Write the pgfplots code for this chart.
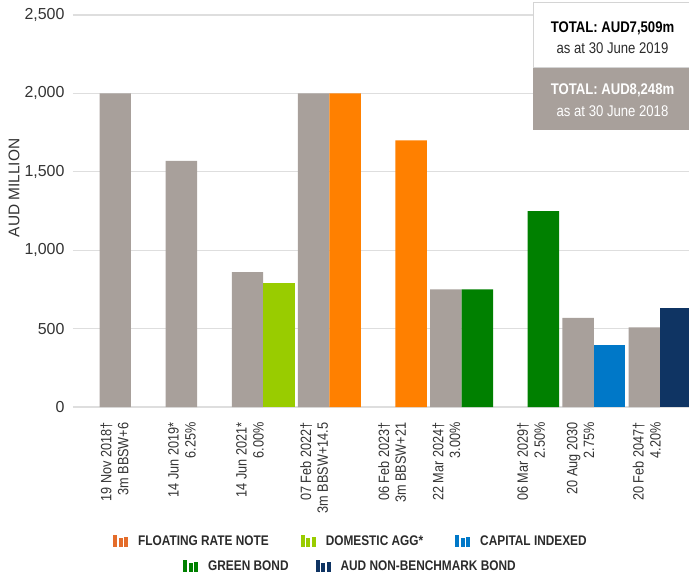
\documentclass[border=0pt]{standalone}
\usepackage{fontspec}
\setmainfont{Liberation Sans}
\newfontfamily\narrow{Liberation Sans}[FakeStretch=0.85]
\usepackage{pgfplots}
\pgfplotsset{compat=1.18}

\definecolor{bgrey}{HTML}{A8A09B}
\definecolor{aggreen}{HTML}{99CC00}
\definecolor{frnorange}{HTML}{FF8000}
\definecolor{legorange}{HTML}{E46C2A}
\definecolor{grnbond}{HTML}{008000}
\definecolor{capblue}{HTML}{0078C8}
\definecolor{navy}{HTML}{0F3463}
\definecolor{gridc}{HTML}{DEDEDE}
\definecolor{tickc}{HTML}{333333}
\definecolor{legc}{HTML}{2B2B2B}
\definecolor{boxline}{HTML}{D4D4D4}

\begin{document}
\begin{tikzpicture}
% page = 689 x 573 bp, axis box at (0,0)-(616,392)
\useasboundingbox (-73bp,-166bp) rectangle (616bp,407bp);

\begin{axis}[
  name=ax,
  scale only axis,
  width=616bp, height=392bp,
  xmin=0.123, xmax=9.439,
  ymin=0, ymax=2500,
  axis line style={draw=none},
  major tick length=0,
  ytick={0,500,...,2500},
  ymajorgrids,
  grid style={draw=gridc, line width=1.2bp},
  yticklabel style={font=\fontsize{16}{19}\selectfont, text=tickc, xshift=-5bp},
  /pgf/number format/1000 sep={,},
  /pgf/number format/assume math mode=true,
  xtick={0.75,1.77,2.8,3.77,4.95,5.77,7.05,7.8,8.8},
  xticklabels={
    {19 Nov 2018†\\3m BBSW+6},
    {14 Jun 2019*\\6.25\%},
    {14 Jun 2021*\\6.00\%},
    {07 Feb 2022†\\3m BBSW+14.5},
    {06 Feb 2023†\\3m BBSW+21},
    {22 Mar 2024†\\3.00\%},
    {06 Mar 2029†\\2.50\%},
    {20 Aug 2030\\2.75\%},
    {20 Feb 2047†\\4.20\%}},
  xticklabel style={yshift=-12bp, rotate=90, anchor=east, align=right,
    font=\narrow\fontsize{15}{17}\selectfont, text=tickc},
  ylabel={AUD MILLION},
  ylabel style={at={(axis description cs:-0.0958,0.559)}, anchor=center,
    rotate=0, font=\fontsize{15.5}{18}\selectfont, text=tickc},
  legend image code/.code={
    \fill[#1] (0bp,-6bp) rectangle (4bp,6bp);
    \fill[#1] (5.5bp,-6bp) rectangle (9.5bp,3bp);
    \fill[#1] (11bp,-6bp) rectangle (15bp,4.5bp);},
  legend columns=3,
  legend style={at={(axis description cs:0.0649,-0.342)}, anchor=west,
    draw=none, fill=none, inner sep=0pt,
    font=\narrow\bfseries\fontsize{14}{16}\selectfont, text=legc,
    /tikz/every odd column/.append style={column sep=8bp},
    /tikz/every even column/.append style={column sep=30bp}},
]
% previous year holdings (30 June 2018)
\addplot[ybar, bar width=0.476, bar shift=-0.238, fill=bgrey, draw=none, forget plot]
  coordinates {(1,2000) (2,1570) (3,860) (4,2000) (6,750) (8,568) (9,508)};
% current holdings by type
\addplot[ybar, bar width=0.476, bar shift=0.238, fill=aggreen, draw=none, forget plot]
  coordinates {(3,790)};
\addplot[ybar, bar width=0.476, bar shift=0.238, fill=frnorange, draw=none, forget plot]
  coordinates {(4,2000) (5,1700)};
\addplot[ybar, bar width=0.476, bar shift=0.238, fill=grnbond, draw=none, forget plot]
  coordinates {(6,750) (7,1250)};
\addplot[ybar, bar width=0.476, bar shift=0.238, fill=capblue, draw=none, forget plot]
  coordinates {(8,395)};
\addplot[ybar, bar width=0.476, bar shift=0.238, fill=navy, draw=none, forget plot]
  coordinates {(9,630)};

\addlegendimage{fill=legorange, draw=none}
\addlegendentry{FLOATING RATE NOTE}
\addlegendimage{fill=aggreen, draw=none}
\addlegendentry{DOMESTIC AGG*}
\addlegendimage{fill=capblue, draw=none}
\addlegendentry{CAPITAL INDEXED}
\end{axis}

% second legend row
\begin{axis}[
  scale only axis, hide axis,
  width=616bp, height=392bp,
  xmin=0, xmax=1, ymin=0, ymax=1,
  legend image code/.code={
    \fill[#1] (0bp,-6bp) rectangle (4bp,6bp);
    \fill[#1] (5.5bp,-6bp) rectangle (9.5bp,3bp);
    \fill[#1] (11bp,-6bp) rectangle (15bp,4.5bp);},
  legend columns=2,
  legend style={at={(axis description cs:0.1786,-0.406)}, anchor=west,
    draw=none, fill=none, inner sep=0pt,
    font=\narrow\bfseries\fontsize{14}{16}\selectfont, text=legc,
    /tikz/every odd column/.append style={column sep=8bp},
    /tikz/every even column/.append style={column sep=25bp}},
]
\addlegendimage{fill=grnbond, draw=none}
\addlegendentry{GREEN BOND}
\addlegendimage{fill=navy, draw=none}
\addlegendentry{AUD NON-BENCHMARK BOND}
\end{axis}

% totals box
\draw[boxline, line width=1bp, fill=white] (460bp,404bp) rectangle (620bp,339bp);
\fill[bgrey] (460bp,339bp) rectangle (620bp,277bp);
\node[font=\narrow\bfseries\fontsize{15.5}{18}\selectfont, text=black] at (539.5bp,379bp) {TOTAL: AUD7,509m};
\node[font=\narrow\fontsize{15.5}{18}\selectfont, text=legc] at (539.5bp,359bp) {as at 30 June 2019};
\node[font=\narrow\bfseries\fontsize{15.5}{18}\selectfont, text=white] at (539.5bp,317bp) {TOTAL: AUD8,248m};
\node[font=\narrow\fontsize{15.5}{18}\selectfont, text=white] at (539.5bp,296bp) {as at 30 June 2018};
\end{tikzpicture}
\end{document}
